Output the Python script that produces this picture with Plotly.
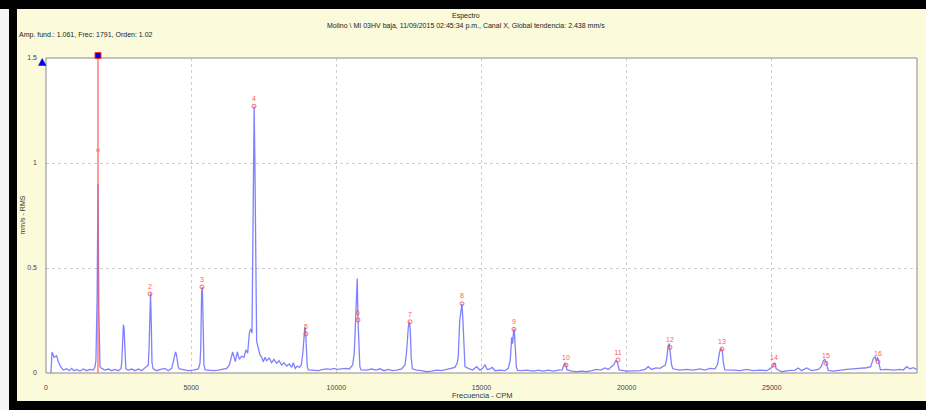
import plotly.graph_objects as go

# Vibration spectrum, Molino \ MI 03HV baja, Canal X
freq_cpm = [
    170, 207, 276, 368, 425, 505, 597, 712, 804, 884, 964, 1056, 1171, 1286, 1401, 1515, 1630, 1688,
    1720, 1760, 1791, 1820, 1860,
    1918, 2032, 2147, 2262, 2376, 2491, 2583,
    2610, 2640, 2665, 2690, 2715, 2750,
    2835, 2950, 3065, 3180, 3295, 3444, 3524,
    3550, 3580, 3600, 3625, 3650, 3690,
    3811, 3949, 4098, 4213, 4328, 4385,
    4420, 4460, 4490, 4520, 4560, 4600,
    4730, 4902, 5074, 5247, 5304,
    5330, 5360, 5385, 5410, 5440, 5480,
    5591, 5763, 5935, 6108, 6223, 6315,
    6395, 6429, 6475, 6521, 6590, 6659, 6739, 6819, 6888, 6946, 7003, 7049, 7095,
    7125, 7150, 7170, 7195, 7225, 7255,
    7370, 7429, 7485, 7543, 7600, 7691, 7772, 7852, 7944, 8025, 8117, 8197, 8289, 8381, 8461, 8518,
    8587, 8656, 8725, 8794,
    8850, 8890, 8915, 8940, 8965, 9000, 9040,
    9207, 9379, 9551, 9667, 9805, 9919, 10034, 10184, 10333, 10448, 10563,
    10620, 10665, 10695, 10720, 10745, 10775, 10810, 10850,
    11045, 11217, 11365, 11503, 11641, 11790, 11940, 12078, 12250, 12364,
    12420, 12480, 12514, 12545, 12580, 12620,
    12767, 12939, 13111, 13283, 13455, 13627, 13800, 13972, 14086, 14166,
    14200, 14250, 14300, 14328, 14360, 14395, 14430,
    14545, 14695, 14833, 14947, 15039, 15120, 15199, 15291, 15371, 15464, 15636, 15808, 15922,
    15990, 16040, 16070, 16105, 16125, 16160, 16200, 16240,
    16383, 16556, 16785, 16957, 17129, 17301, 17473, 17645,
    17780, 17830, 17870, 17905, 17945,
    18106, 18278, 18450, 18622, 18794, 18966, 19104, 19252, 19367, 19482,
    19560, 19620, 19655, 19700, 19740,
    19999, 20228, 20457, 20630, 20744, 20859, 21009, 21146, 21261, 21330,
    21380, 21430, 21468, 21505, 21545, 21590,
    21835, 22064, 22294, 22524, 22696, 22868, 23040,
    23130, 23200, 23250, 23290, 23330, 23380,
    23671, 23901, 24131, 24360, 24590, 24820, 24958,
    25030, 25080, 25110, 25150,
    25337, 25567, 25796, 25911, 26026, 26198, 26371, 26600,
    26700, 26780, 26830, 26880, 26940,
    27115, 27345, 27575, 27804, 28034, 28264, 28402,
    28500, 28560, 28600, 28640, 28690, 28740,
    28953, 29183, 29413, 29527, 29642, 29757, 29871, 29990,
]
amp_mms = [
    0.0, 0.10, 0.075, 0.082, 0.054, 0.030, 0.014, 0.020, 0.011, 0.022, 0.011, 0.017, 0.009, 0.019, 0.011, 0.017, 0.014, 0.030,
    0.06, 0.35, 0.90, 0.30, 0.03,
    0.022, 0.014, 0.019, 0.011, 0.017, 0.011, 0.022,
    0.05, 0.20, 0.23, 0.21, 0.08, 0.02,
    0.014, 0.019, 0.011, 0.019, 0.011, 0.030, 0.038,
    0.12, 0.37, 0.38, 0.25, 0.05, 0.02,
    0.011, 0.017, 0.022, 0.011, 0.022, 0.054,
    0.07, 0.10, 0.09, 0.05, 0.025, 0.02,
    0.017, 0.011, 0.014, 0.019, 0.046,
    0.12, 0.38, 0.41, 0.25, 0.04, 0.015,
    0.014, 0.011, 0.014, 0.019, 0.022, 0.038,
    0.086, 0.10, 0.077, 0.054, 0.10, 0.065, 0.08, 0.075, 0.11, 0.094, 0.19, 0.21, 0.19,
    0.70, 1.15, 1.27, 1.00, 0.40, 0.15,
    0.086, 0.075, 0.054, 0.075, 0.059, 0.071, 0.049, 0.065, 0.046, 0.059, 0.038, 0.049, 0.033, 0.043, 0.027, 0.049,
    0.022, 0.033, 0.027, 0.038,
    0.10, 0.19, 0.22, 0.20, 0.12, 0.03, 0.015,
    0.014, 0.011, 0.017, 0.020, 0.017, 0.022, 0.017, 0.020, 0.022, 0.019, 0.038,
    0.10, 0.28, 0.42, 0.45, 0.26, 0.10, 0.03, 0.015,
    0.014, 0.019, 0.014, 0.020, 0.011, 0.017, 0.011, 0.014, 0.019, 0.038,
    0.10, 0.22, 0.245, 0.21, 0.07, 0.02,
    0.014, 0.011, 0.006, 0.009, 0.014, 0.011, 0.017, 0.020, 0.027, 0.049,
    0.08, 0.25, 0.32, 0.33, 0.25, 0.08, 0.03,
    0.022, 0.014, 0.030, 0.014, 0.022, 0.038, 0.017, 0.020, 0.027, 0.011, 0.014, 0.011, 0.022,
    0.06, 0.17, 0.14, 0.20, 0.21, 0.13, 0.03, 0.012,
    0.011, 0.014, 0.009, 0.014, 0.009, 0.014, 0.009, 0.014,
    0.015, 0.035, 0.046, 0.040, 0.015,
    0.009, 0.006, 0.009, 0.006, 0.011, 0.017, 0.014, 0.024, 0.017, 0.030,
    0.040, 0.057, 0.059, 0.040, 0.015,
    0.009, 0.009, 0.011, 0.017, 0.030, 0.017, 0.024, 0.022, 0.030, 0.038,
    0.07, 0.13, 0.14, 0.10, 0.04, 0.02,
    0.014, 0.017, 0.014, 0.020, 0.014, 0.022, 0.020,
    0.04, 0.10, 0.115, 0.11, 0.05, 0.015,
    0.014, 0.011, 0.017, 0.011, 0.014, 0.011, 0.022,
    0.03, 0.045, 0.046, 0.02,
    0.006, 0.011, 0.014, 0.024, 0.011, 0.024, 0.011, 0.017,
    0.03, 0.06, 0.064, 0.045, 0.012,
    0.009, 0.014, 0.017, 0.020, 0.022, 0.025, 0.030,
    0.07, 0.078, 0.055, 0.075, 0.04, 0.015,
    0.017, 0.014, 0.017, 0.014, 0.030, 0.020, 0.025, 0.017,
]

# Fundamental cursor
fund_freq = 1791
fund_amp = 1.061
fund_order = 1.02

# Harmonic markers (orders 2..16 of the fundamental)
harm_order = [2, 3, 4, 5, 6, 7, 8, 9, 10, 11, 12, 13, 14, 15, 16]
harm_freq = [3582, 5373, 7164, 8955, 10746, 12537, 14328, 16119, 17910,
             19701, 21492, 23283, 25074, 26865, 28656]
harm_amp = [0.376, 0.41, 1.27, 0.186, 0.252, 0.244, 0.33, 0.208, 0.038,
            0.062, 0.122, 0.114, 0.038, 0.046, 0.054]

x_ticks = [0, 5000, 10000, 15000, 20000, 25000, 30000]
y_ticks = [0, 0.5, 1, 1.5]
y_tick_text = ["0", "0.5", "1", "1.5"]

title_text = "Espectro"
subtitle_text = ("Molino \\ MI 03HV baja, 11/09/2015 02:45:34 p.m., Canal X, "
                 "Global tendencia: 2.438 mm/s")
info_text = f"Amp. fund.: {fund_amp}, Frec: {fund_freq}, Orden: {fund_order}"

W, H = 926, 410
ML, MR, MT, MB = 46, 9, 58, 37
PW, PH = W - ML - MR, H - MT - MB
FONT = "Liberation Sans, Arial, sans-serif"
BG = "#fbfbdc"


def px(xp):
    return (xp - ML) / PW


def py(yp):
    return (H - MB - yp) / PH


fig = go.Figure()

fig.add_trace(go.Scatter(
    x=freq_cpm, y=amp_mms, mode="lines",
    line=dict(color="rgba(45,45,255,0.6)", width=1.3),
    hoverinfo="x+y", showlegend=False,
))

# Harmonic markers with order numbers
fig.add_trace(go.Scatter(
    x=harm_freq, y=harm_amp, mode="markers+text",
    text=[str(o) for o in harm_order], textposition="top center",
    textfont=dict(family=FONT, size=7, color="rgba(255,50,50,0.85)"),
    marker=dict(symbol="circle-open", size=4, color="rgba(255,70,70,0.8)", line=dict(width=1)),
    showlegend=False, cliponaxis=False,
))

# Fundamental cursor: vertical line and amplitude dot
fig.add_trace(go.Scatter(
    x=[fund_freq, fund_freq], y=[0, 1.5], mode="lines",
    line=dict(color="rgba(255,90,90,0.9)", width=1.3),
    showlegend=False, hoverinfo="skip",
))
fig.add_trace(go.Scatter(
    x=[fund_freq], y=[fund_amp], mode="markers",
    marker=dict(symbol="circle", size=4, color="rgba(255,120,120,0.7)"),
    showlegend=False,
))

shapes = [
    # window frame
    dict(type="rect", xref="paper", yref="paper", x0=px(0), x1=px(W), y0=py(0), y1=py(9),
         fillcolor="#000000", line=dict(width=0), layer="above"),
    dict(type="rect", xref="paper", yref="paper", x0=px(0), x1=px(9), y0=py(9), y1=py(H),
         fillcolor="#f4f4f4", line=dict(width=0), layer="above"),
    dict(type="rect", xref="paper", yref="paper", x0=px(9), x1=px(17), y0=py(9), y1=py(H),
         fillcolor="#000000", line=dict(width=0), layer="above"),
    dict(type="rect", xref="paper", yref="paper", x0=px(9), x1=px(W), y0=py(401), y1=py(H),
         fillcolor="#000000", line=dict(width=0), layer="above"),
    # plot frame
    dict(type="rect", xref="paper", yref="paper", x0=0, x1=1, y0=0, y1=1,
         line=dict(color="#8a8a8a", width=1), layer="above"),
    # cursor handle on top of the frame
    dict(type="rect", xref="x", xsizemode="pixel", xanchor=fund_freq, x0=-3, x1=3,
         yref="paper", y0=py(58.5), y1=py(52.5),
         fillcolor="#0000ee", line=dict(color="#ff3030", width=1), layer="above"),
    # scale handle left of the axis
    dict(type="path", xref="paper", yref="paper",
         path=f"M {px(38.5)},{py(65.5)} L {px(46)},{py(65.5)} L {px(42.2)},{py(58.5)} Z",
         fillcolor="#0000ee", line=dict(color="#0000ee", width=0.5), layer="above"),
]

annotations = [
    dict(text=title_text, x=px(466), y=py(16), xref="paper", yref="paper",
         showarrow=False, xanchor="center", yanchor="middle",
         font=dict(family=FONT, size=7, color="#222222")),
    dict(text=subtitle_text, x=px(466), y=py(26), xref="paper", yref="paper",
         showarrow=False, xanchor="center", yanchor="middle",
         font=dict(family=FONT, size=7, color="#222222")),
    dict(text=info_text, x=px(17), y=py(35), xref="paper", yref="paper",
         showarrow=False, xanchor="left", yanchor="middle",
         font=dict(family=FONT, size=7, color="#222222")),
    dict(text="Frecuencia - CPM", x=px(482), y=py(395.5), xref="paper", yref="paper",
         showarrow=False, xanchor="center", yanchor="middle",
         font=dict(family=FONT, size=7.5, color="#333333")),
    dict(text="mm/s - RMS", x=px(22), y=0.5, xref="paper", yref="paper",
         showarrow=False, textangle=-90, xanchor="center", yanchor="middle",
         font=dict(family=FONT, size=7, color="#333333")),
]

fig.update_layout(
    width=W, height=H,
    margin=dict(l=ML, r=MR, t=MT, b=MB, pad=0),
    paper_bgcolor=BG, plot_bgcolor="#ffffff",
    shapes=shapes, annotations=annotations,
    showlegend=False,
    xaxis=dict(
        range=[0, 30000], tickvals=x_ticks, ticktext=[str(v) for v in x_ticks],
        showgrid=True, gridcolor="#cfcfcf", griddash="dot", gridwidth=1,
        zeroline=False, showline=False, ticks="", ticklabelstandoff=9,
        tickfont=dict(family=FONT, size=7, color="#444444"),
    ),
    yaxis=dict(
        range=[0, 1.5], tickvals=y_ticks, ticktext=y_tick_text,
        showgrid=True, gridcolor="#cfcfcf", griddash="dot", gridwidth=1,
        zeroline=False, showline=False, ticks="", ticklabelstandoff=8,
        tickfont=dict(family=FONT, size=7, color="#444444"),
    ),
)

fig.write_html("out.html")
